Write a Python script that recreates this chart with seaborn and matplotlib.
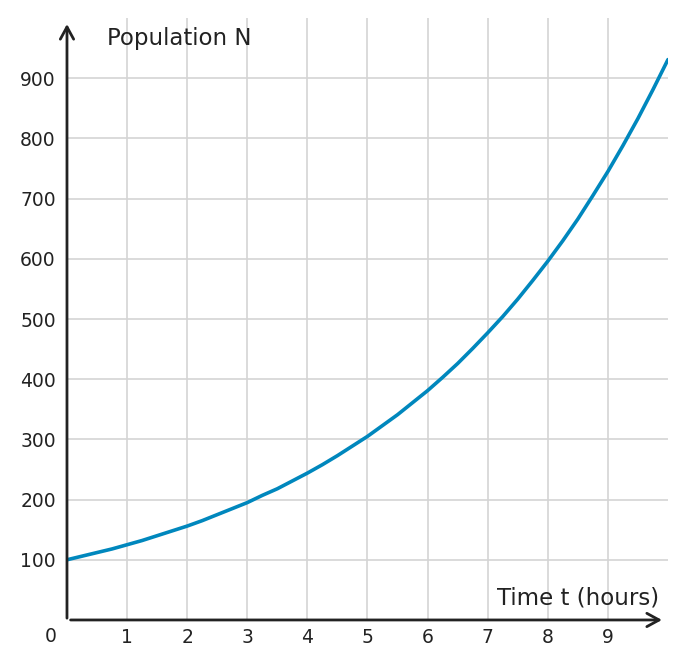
import numpy as np
import pandas as pd
import matplotlib
matplotlib.use('Agg')
import matplotlib.pyplot as plt
import seaborn as sns

# population every quarter hour
hours = [0, 0.25, 0.5, 0.75, 1, 1.25, 1.5, 1.75, 2, 2.25, 2.5, 2.75, 3, 3.25, 3.5, 3.75,
         4, 4.25, 4.5, 4.75, 5, 5.25, 5.5, 5.75, 6, 6.25, 6.5, 6.75, 7, 7.25, 7.5, 7.75,
         8, 8.25, 8.5, 8.75, 9, 9.25, 9.5, 9.75, 10]
population = [100, 106, 112, 118, 125, 132, 140, 148, 156, 165, 175, 185, 195, 207, 218, 231,
              244, 258, 273, 289, 305, 323, 341, 361, 381, 403, 426, 451, 477, 504, 533, 564,
              596, 630, 666, 705, 745, 788, 833, 881, 931]
x_ticks = [1, 2, 3, 4, 5, 6, 7, 8, 9]
y_ticks = [100, 200, 300, 400, 500, 600, 700, 800, 900]

df = pd.DataFrame({'t': hours, 'N': population})

sns.set_style('white')
plt.rcParams['font.family'] = ['DejaVu Sans']
ink = '#222222'

fig = plt.figure(figsize=(6.87, 6.68), dpi=100)
ax = fig.add_axes([0.0975, 0.0719, 0.8748, 0.9011])

sns.lineplot(x='t', y='N', data=df, ax=ax, color='#0087bd', linewidth=2.6, zorder=3)

ax.set_xlim(0, 10)
ax.set_ylim(0, 1000)
ax.set_xticks(x_ticks)
ax.set_yticks(y_ticks)
ax.grid(True, color='#d4d4d4', linewidth=1.2, zorder=0)
ax.set_axisbelow(True)
for s in ax.spines.values():
    s.set_visible(False)
ax.tick_params(axis='both', direction='in', length=3, width=2, color=ink,
               labelsize=13.5, labelcolor=ink)
ax.tick_params(axis='x', pad=6)
ax.tick_params(axis='y', pad=8)
ax.set_xlabel('')
ax.set_ylabel('')

# axis arrows
arrow = dict(arrowstyle='->,head_length=0.55,head_width=0.3', color=ink,
             lw=2, mutation_scale=16, shrinkA=0, shrinkB=0)
ax.annotate('', xy=(0.99, 0), xytext=(0.006, 0), xycoords='axes fraction',
            arrowprops=arrow, annotation_clip=False)
ax.annotate('', xy=(0, 0.99), xytext=(0, 0.003), xycoords='axes fraction',
            arrowprops=arrow, annotation_clip=False)

ax.annotate('0', xy=(0, 0), xycoords='axes fraction', xytext=(-12, -12),
            textcoords='offset points', ha='center', va='center',
            fontsize=13.5, color=ink)
ax.text(0.066, 0.985, 'Population N', transform=ax.transAxes, ha='left', va='top',
        fontsize=16.5, color=ink)
ax.text(0.985, 0.018, 'Time t (hours)', transform=ax.transAxes, ha='right', va='bottom',
        fontsize=16.5, color=ink)

plt.savefig('out.png', dpi=100)
